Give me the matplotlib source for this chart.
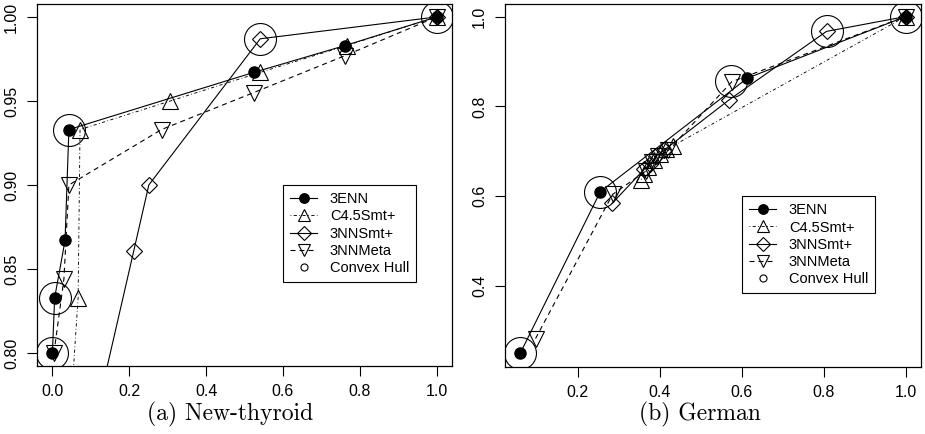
import matplotlib
matplotlib.use("Agg")
import matplotlib.pyplot as plt

plt.rcParams['font.family'] = ['Liberation Sans', 'DejaVu Sans']

# New-thyroid
thy_enn_x = [0.0, 0.006, 0.033, 0.043, 0.524, 0.762, 1.0]
thy_enn_y = [0.800, 0.833, 0.867, 0.933, 0.967, 0.983, 1.0]
thy_c45_x = [0.0, 0.067, 0.072, 0.307, 0.541, 0.766, 1.0]
thy_c45_y = [0.600, 0.833, 0.933, 0.950, 0.967, 0.983, 1.0]
thy_smt_x = [0.0, 0.212, 0.251, 0.541, 1.0]
thy_smt_y = [0.650, 0.861, 0.900, 0.987, 1.0]
thy_meta_x = [0.004, 0.030, 0.043, 0.284, 0.524, 0.762, 1.0]
thy_meta_y = [0.800, 0.844, 0.900, 0.933, 0.955, 0.977, 1.0]
thy_hull_x = [0.0, 0.006, 0.043, 0.541, 1.0]
thy_hull_y = [0.800, 0.833, 0.933, 0.987, 1.0]

# German
ger_enn_x = [0.060, 0.255, 0.614, 1.0]
ger_enn_y = [0.251, 0.610, 0.863, 1.0]
ger_c45_x = [0.355, 0.362, 0.372, 0.386, 0.401, 0.416, 0.432, 1.0]
ger_c45_y = [0.637, 0.650, 0.664, 0.680, 0.694, 0.704, 0.712, 1.0]
ger_smt_x = [0.284, 0.362, 0.377, 0.392, 0.410, 0.570, 0.807, 1.0]
ger_smt_y = [0.584, 0.660, 0.672, 0.690, 0.702, 0.815, 0.967, 1.0]
ger_meta_x = [0.097, 0.285, 0.366, 0.381, 0.396, 0.421, 0.576, 1.0]
ger_meta_y = [0.283, 0.604, 0.656, 0.676, 0.690, 0.702, 0.855, 1.0]
ger_hull_x = [0.060, 0.255, 0.574, 0.807, 1.0]
ger_hull_y = [0.251, 0.610, 0.857, 0.967, 1.0]

LW = 0.8
DASHED = (0, (4.5, 3.6))
DOTDASH = (0, (0.9, 2.7, 3.6, 2.7))


def draw(ax, enn, c45, smt, meta, hull):
    ax.plot(*enn, '-', color='k', lw=LW, marker='o', ms=8, mfc='k', mec='k', label='3ENN')
    ax.plot(*c45, color='k', lw=LW * 0.8, ls=DOTDASH, marker='^', ms=11, mfc='none', mec='k',
            mew=0.8, label='C4.5Smt+')
    ax.plot(*smt, '-', color='k', lw=LW, marker='D', ms=8.5, mfc='none', mec='k', mew=0.8,
            label='3NNSmt+')
    ax.plot(*meta, color='k', lw=LW, ls=DASHED, marker='v', ms=11, mfc='none', mec='k',
            mew=0.8, label='3NNMeta')
    ax.plot(*hull, ls='none', marker='o', ms=23, mfc='none', mec='k', mew=0.8)
    ax.plot([], [], ls='none', marker='o', ms=6, mfc='none', mec='k', mew=0.8, label='Convex Hull')
    for s in ax.spines.values():
        s.set_linewidth(0.9)
    ax.tick_params(direction='out', length=7, width=0.8, labelsize=11.5, pad=6)
    for lab in ax.get_yticklabels():
        lab.set_rotation(90)
        lab.set_va('center')


fig = plt.figure(figsize=(9.25, 4.34), dpi=100)

ax1 = fig.add_axes([37 / 925, 68 / 434, 415 / 925, 362 / 434])
draw(ax1, (thy_enn_x, thy_enn_y), (thy_c45_x, thy_c45_y), (thy_smt_x, thy_smt_y),
     (thy_meta_x, thy_meta_y), (thy_hull_x, thy_hull_y))
ax1.set_xlim(-0.04, 1.04)
ax1.set_ylim(0.7923, 1.0077)
ax1.set_xticks([0.0, 0.2, 0.4, 0.6, 0.8, 1.0])
ax1.set_xticklabels(['0.0', '0.2', '0.4', '0.6', '0.8', '1.0'])
ax1.set_yticks([0.80, 0.85, 0.90, 0.95, 1.00])
ax1.set_yticklabels(['0.80', '0.85', '0.90', '0.95', '1.00'], rotation=90, va='center')
ax1.legend(loc='upper left', bbox_to_anchor=(0.593, 0.5), frameon=True, fancybox=False,
           edgecolor='k', framealpha=1, fontsize=10.5, handlelength=1.8, handletextpad=0.9,
           labelspacing=0.22, borderpad=0.5, borderaxespad=0, markerscale=0.85)
ax1.get_legend().get_frame().set_linewidth(0.8)

ax2 = fig.add_axes([505 / 925, 67 / 434, 416 / 925, 363 / 434])
draw(ax2, (ger_enn_x, ger_enn_y), (ger_c45_x, ger_c45_y), (ger_smt_x, ger_smt_y),
     (ger_meta_x, ger_meta_y), (ger_hull_x, ger_hull_y))
ax2.set_xlim(0.0224, 1.0376)
ax2.set_ylim(0.2196, 1.028)
ax2.set_xticks([0.2, 0.4, 0.6, 0.8, 1.0])
ax2.set_xticklabels(['0.2', '0.4', '0.6', '0.8', '1.0'])
ax2.set_yticks([0.4, 0.6, 0.8, 1.0])
ax2.set_yticklabels(['0.4', '0.6', '0.8', '1.0'], rotation=90, va='center')
ax2.legend(loc='upper left', bbox_to_anchor=(0.570, 0.471), frameon=True, fancybox=False,
           edgecolor='k', framealpha=1, fontsize=10.5, handlelength=1.8, handletextpad=0.9,
           labelspacing=0.22, borderpad=0.5, borderaxespad=0, markerscale=0.85)
ax2.get_legend().get_frame().set_linewidth(0.8)

fig.text(230 / 925, 1 - 414 / 434, '(a) New-thyroid', family=['cmr10', 'DejaVu Serif'],
         fontsize=17, ha='center', va='center')
fig.text(700 / 925, 1 - 414 / 434, '(b) German', family=['cmr10', 'DejaVu Serif'],
         fontsize=17, ha='center', va='center')

fig.savefig('out.png', dpi=100)
